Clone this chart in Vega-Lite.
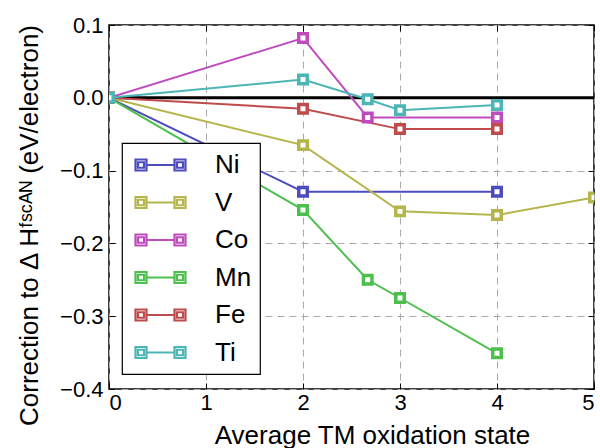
{
  "$schema": "https://vega.github.io/schema/vega-lite/v6.json",
  "autosize": "none",
  "width": 485,
  "height": 364,
  "padding": {"left": 109, "top": 25, "right": 6, "bottom": 59},
  "background": "white",
  "config": {
    "font": "Liberation Sans",
    "view": {"stroke": "black", "strokeWidth": 1.5},
    "legend": {"strokeColor": "black", "strokeWidth": 1.2, "fillColor": "white", "cornerRadius": 0},
    "axis": {
      "domain": false,
      "labelFont": "Liberation Sans",
      "titleFont": "Liberation Sans",
      "labelColor": "black",
      "titleColor": "black",
      "labelFontSize": 22,
      "titleFontSize": 26,
      "titleFontWeight": "normal",
      "tickColor": "black",
      "tickSize": -6,
      "tickWidth": 1,
      "gridColor": "#aaaaaa",
      "gridDash": [7, 5],
      "gridWidth": 1
    }
  },
  "datasets": {
    "pts": [
      {"series": "Ni", "x": 0, "y": 0},
      {"series": "Ni", "x": 2, "y": -0.129},
      {"series": "Ni", "x": 4, "y": -0.129},
      {"series": "V", "x": 0, "y": 0},
      {"series": "V", "x": 2, "y": -0.065},
      {"series": "V", "x": 3, "y": -0.156},
      {"series": "V", "x": 4, "y": -0.161},
      {"series": "V", "x": 5, "y": -0.137},
      {"series": "Co", "x": 0, "y": 0},
      {"series": "Co", "x": 2, "y": 0.082},
      {"series": "Co", "x": 2.667, "y": -0.027},
      {"series": "Co", "x": 4, "y": -0.027},
      {"series": "Mn", "x": 0, "y": 0},
      {"series": "Mn", "x": 2, "y": -0.154},
      {"series": "Mn", "x": 2.667, "y": -0.25},
      {"series": "Mn", "x": 3, "y": -0.275},
      {"series": "Mn", "x": 4, "y": -0.351},
      {"series": "Fe", "x": 0, "y": 0},
      {"series": "Fe", "x": 2, "y": -0.015},
      {"series": "Fe", "x": 3, "y": -0.043},
      {"series": "Fe", "x": 4, "y": -0.043},
      {"series": "Ti", "x": 0, "y": 0},
      {"series": "Ti", "x": 2, "y": 0.025},
      {"series": "Ti", "x": 2.667, "y": -0.002},
      {"series": "Ti", "x": 3, "y": -0.017},
      {"series": "Ti", "x": 4, "y": -0.01}
    ],
    "zero": [{"y": 0}]
  },
  "resolve": {"axis": {"x": "independent", "y": "independent"}},
  "layer": [
    {
      "data": {"name": "pts"},
      "mark": {"type": "point", "opacity": 0},
      "encoding": {
        "x": {"field": "x", "type": "quantitative", "scale": {"domain": [0, 5], "nice": false, "zero": false},
          "axis": {"orient": "top", "values": [0, 1, 2, 3, 4, 5], "labels": false, "grid": false, "title": null}},
        "y": {"field": "y", "type": "quantitative", "scale": {"domain": [-0.4, 0.1], "nice": false, "zero": false},
          "axis": {"orient": "right", "values": [-0.4, -0.3, -0.2, -0.1, 0, 0.1], "labels": false, "grid": false, "title": null}}
      }
    },
    {
      "data": {"name": "pts"},
      "mark": {"type": "point", "opacity": 0},
      "encoding": {
        "x": {"field": "x", "type": "quantitative",
          "axis": {"orient": "bottom", "values": [0, 1, 2, 3, 4, 5], "format": "d", "labelPadding": 9, "grid": true,
            "title": "Average TM oxidation state", "titleX": 263, "titleY": 54, "titleBaseline": "alphabetic", "titleAlign": "center"}},
        "y": {"field": "y", "type": "quantitative",
          "axis": {"orient": "left", "values": [-0.4, -0.3, -0.2, -0.1, 0, 0.1], "labelPadding": 12, "grid": true,
            "labelExpr": "datum.value < 0 ? '\u2212' + format(-datum.value, '.1f') : format(datum.value, '.1f')",
            "title": "Correction to \u0394 H\u1da0\u02e2\u1d9c\u1d2c\u1d3a (eV/electron)", "titleX": -72, "titleY": 200, "titleBaseline": "alphabetic", "titleAlign": "center", "titleAngle": -90}}
      }
    },
    {
      "data": {"name": "zero"},
      "mark": {"type": "rule", "color": "black", "strokeWidth": 3},
      "encoding": {"y": {"field": "y", "type": "quantitative", "axis": null}}
    },
    {
      "data": {"name": "pts"},
      "mark": {"type": "line", "strokeWidth": 2, "clip": true},
      "encoding": {
        "x": {"field": "x", "type": "quantitative", "axis": null},
        "y": {"field": "y", "type": "quantitative", "axis": null},
        "color": {"field": "series", "type": "nominal",
          "scale": {"domain": ["Ni", "V", "Co", "Mn", "Fe", "Ti"], "range": ["#4c4cbf", "#b5b54c", "#bf4cbf", "#4cbf4c", "#bf4c4c", "#4cb5b5"]},
          "legend": {
            "title": null, "orient": "none", "legendX": 13, "legendY": 118,
            "symbolType": "M-1,-0.44H-0.12V0.44H-1Z M-0.8,-0.22H-0.32V0.22H-0.8Z M-0.12,0H2.12 M2.12,-0.44H3V0.44H2.12Z M2.32,-0.22H2.8V0.22H2.32Z",
            "symbolSize": 625, "symbolStrokeWidth": 2.2, "symbolFillColor": "white", "symbolOpacity": 1, "symbolOffset": 4,
            "labelFont": "Liberation Sans", "labelFontSize": 26, "labelColor": "black", "labelOffset": 53,
            "rowPadding": 10.5, "padding": 8
          }
        },
        "order": {"field": "x", "type": "quantitative"}
      }
    },
    {
      "data": {"name": "pts"},
      "mark": {"type": "point", "shape": "square", "filled": false, "fill": "white", "fillOpacity": 1, "opacity": 1, "size": 72, "strokeWidth": 3.5, "clip": true},
      "encoding": {
        "x": {"field": "x", "type": "quantitative", "axis": null},
        "y": {"field": "y", "type": "quantitative", "axis": null},
        "color": {"field": "series", "type": "nominal"}
      }
    }
  ]
}
